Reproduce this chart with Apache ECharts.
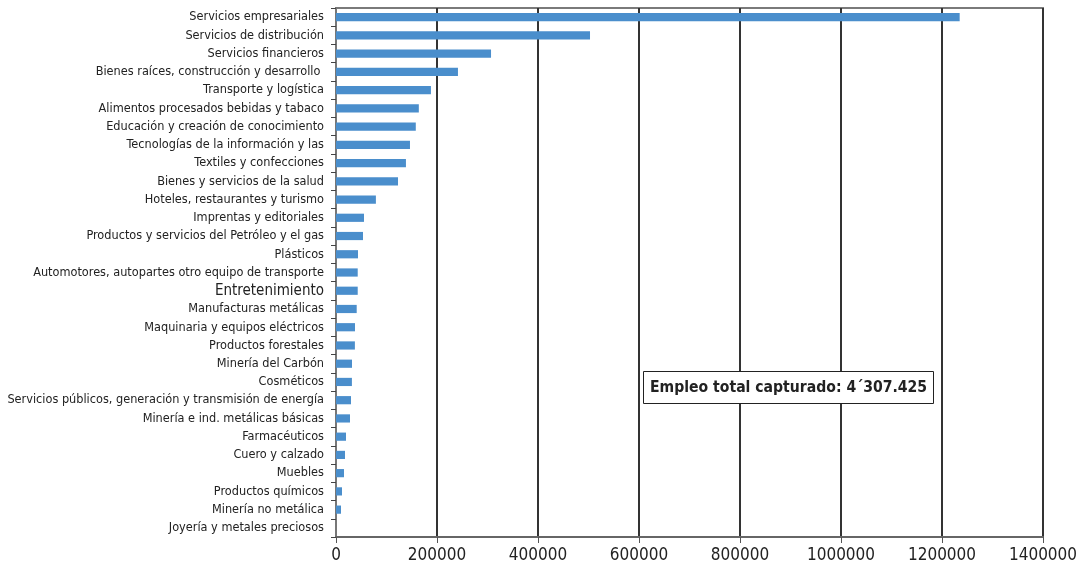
<!DOCTYPE html>
<html><head><meta charset="utf-8">
<script src="https://cdn.jsdelivr.net/npm/echarts@6/dist/echarts.min.js"></script>
<style>html,body{margin:0;padding:0;background:#fff}#c{width:1080px;height:574px}</style>
</head><body><div id="c"></div>
<script>
const categories = [
 "Servicios empresariales","Servicios de distribución","Servicios financieros",
 "Bienes raíces, construcción y desarrollo ","Transporte y logística",
 "Alimentos procesados bebidas y tabaco","Educación y creación de conocimiento",
 "Tecnologías de la información y las","Textiles y confecciones",
 "Bienes y servicios de la salud","Hoteles, restaurantes y turismo",
 "Imprentas y editoriales","Productos y servicios del Petróleo y el gas",
 "Plásticos","Automotores, autopartes otro equipo de transporte",
 "Entretenimiento","Manufacturas metálicas","Maquinaria y equipos eléctricos",
 "Productos forestales","Minería del Carbón","Cosméticos",
 "Servicios públicos, generación y transmisión de energía",
 "Minería e ind. metálicas básicas","Farmacéuticos","Cuero y calzado",
 "Muebles","Productos químicos","Minería no metálica","Joyería y metales preciosos"
];
const empleo = [1235000,503000,307000,241500,188000,164000,158000,146500,138500,122800,79000,55400,53500,43600,43000,43000,41000,37600,37400,31700,31500,29700,27700,19800,17800,15800,11900,9900,0];
const xTicks = [0,200000,400000,600000,800000,1000000,1200000,1400000];
const note = "Empleo total capturado: 4´307.425";

const FONT = '"DejaVu Sans Condensed","DejaVu Sans",sans-serif';
const chart = echarts.init(document.getElementById('c'));
chart.setOption({
  animation:false,
  grid:{left:336,right:37,top:8,bottom:37,show:true,borderColor:'#7a7a7a',borderWidth:2,containLabel:false,outerBoundsMode:'none'},
  xAxis:{type:'value',min:xTicks[0],max:xTicks[xTicks.length-1],interval:200000,
    axisLine:{show:true,lineStyle:{color:'#666',width:2}},
    axisTick:{show:true,length:6,lineStyle:{color:'#555',width:1}},
    axisLabel:{fontFamily:FONT,fontWeight:'condensed',fontSize:17,color:'#222',margin:10,formatter:v=>String(v)},
    splitLine:{show:true,lineStyle:{color:'#333',width:2}}},
  yAxis:{type:'category',data:categories,inverse:true,
    axisLine:{show:true,lineStyle:{color:'#777',width:2}},
    axisTick:{show:true,length:5,lineStyle:{color:'#444',width:1}},
    axisLabel:{interval:0,fontFamily:FONT,fontWeight:'condensed',fontSize:12.6,color:'#222',margin:12,
      formatter:v=>v==="Entretenimiento"?'{big|'+v+'}':v,
      rich:{big:{fontFamily:FONT,fontWeight:'condensed',fontSize:15,color:'#222'}}}},
  series:[{type:'bar',data:empleo,barCategoryGap:'55%',
    itemStyle:{color:'#4a8ecc'}}],
  title:{text:note,left:643,top:371,padding:[7,7,7,7],borderColor:'#222',borderWidth:1,backgroundColor:'#fff',
    textStyle:{fontFamily:FONT,fontWeight:'bold condensed',fontSize:15.6,lineHeight:19,color:'#222'}}
});
</script></body></html>
